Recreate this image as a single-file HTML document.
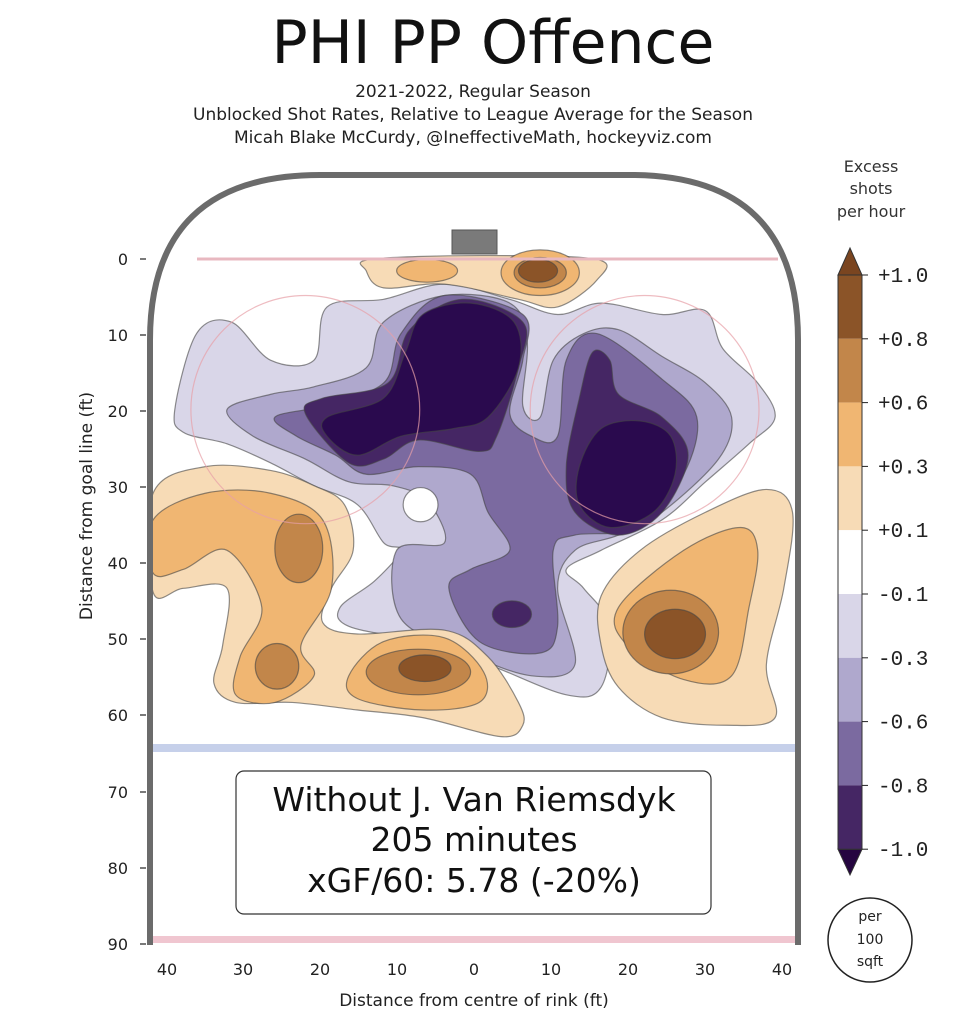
<!DOCTYPE html>
<html><head><meta charset="utf-8"><style>
body{margin:0;background:#fff;}
svg{display:block;font-family:"DejaVu Sans","Liberation Sans",sans-serif;}
</style></head><body>
<svg id="s" width="961" height="1024" viewBox="0 0 961 1024">
<rect width="961" height="1024" fill="#fff"/>
<text x="493" y="63" font-size="60" text-anchor="middle" fill="#111">PHI PP Offence</text>
<text x="473" y="97" font-size="17" text-anchor="middle" fill="#222">2021-2022, Regular Season</text>
<text x="473" y="120" font-size="17" text-anchor="middle" fill="#222">Unblocked Shot Rates, Relative to League Average for the Season</text>
<text x="473" y="143" font-size="17" text-anchor="middle" fill="#222">Micah Blake McCurdy, @IneffectiveMath, hockeyviz.com</text>
<g id="plot" transform="translate(140,170) scale(0.435,0.3803)"></g>
<!-- rink -->
<line x1="197" y1="259" x2="778" y2="259" stroke="#e8b8c0" stroke-width="3"/>
<rect x="452" y="230" width="45" height="24" fill="#7a7a7a" stroke="#555" stroke-width="1"/>
<rect x="150" y="744" width="650" height="8" fill="#c6d0ea"/>
<rect x="150" y="936" width="650" height="7" fill="#f0c6d0"/>
<path d="M150,945 L150,340 Q150,175 320,175 L630,175 Q798,175 798,340 L798,945" fill="none" stroke="#6b6b6b" stroke-width="6"/>
<g font-size="16" fill="#222" text-anchor="end">
<text x="128" y="265">0</text><text x="128" y="341">10</text><text x="128" y="417">20</text><text x="128" y="493">30</text><text x="128" y="569">40</text><text x="128" y="645">50</text><text x="128" y="721">60</text><text x="128" y="798">70</text><text x="128" y="874">80</text><text x="128" y="950">90</text>
</g>
<g stroke="#222" stroke-width="1.2">
<line x1="140" y1="259" x2="146" y2="259"/><line x1="140" y1="335" x2="146" y2="335"/><line x1="140" y1="411" x2="146" y2="411"/><line x1="140" y1="487" x2="146" y2="487"/><line x1="140" y1="563" x2="146" y2="563"/><line x1="140" y1="639" x2="146" y2="639"/><line x1="140" y1="715" x2="146" y2="715"/><line x1="140" y1="792" x2="146" y2="792"/><line x1="140" y1="868" x2="146" y2="868"/><line x1="140" y1="944" x2="146" y2="944"/>
</g>
<g font-size="16" fill="#222" text-anchor="middle">
<text x="167" y="975">40</text><text x="243" y="975">30</text><text x="320" y="975">20</text><text x="397" y="975">10</text><text x="474" y="975">0</text><text x="551" y="975">10</text><text x="628" y="975">20</text><text x="705" y="975">30</text><text x="782" y="975">40</text>
</g>
<text x="474" y="1006" font-size="17" text-anchor="middle" fill="#222">Distance from centre of rink (ft)</text>
<text transform="translate(92,506) rotate(-90)" font-size="17" text-anchor="middle" fill="#222">Distance from goal line (ft)</text>
<rect x="236" y="771" width="475" height="143" rx="8" fill="#fff" stroke="#333" stroke-width="1.2"/>
<g font-size="33" text-anchor="middle" fill="#111">
<text x="474" y="811">Without J. Van Riemsdyk</text>
<text x="474" y="851">205 minutes</text>
<text x="474" y="892">xGF/60: 5.78 (-20%)</text>
</g>
<g font-size="16" fill="#333" text-anchor="middle">
<text x="871" y="172">Excess</text><text x="871" y="194">shots</text><text x="871" y="217">per hour</text>
</g>
<g id="cb"></g>
<circle cx="870" cy="940" r="42" fill="#fff" stroke="#222" stroke-width="1.5"/>
<g font-size="14" text-anchor="middle" fill="#222"><text x="870" y="921">per</text><text x="870" y="944">100</text><text x="870" y="966">sqft</text></g>
</svg>
<script>
const NS="http://www.w3.org/2000/svg";
function smooth(p){let n=p.length,d="M"+p[0][0]+","+p[0][1];
for(let i=0;i<n;i++){const p0=p[(i-1+n)%n],p1=p[i],p2=p[(i+1)%n],p3=p[(i+2)%n];
d+=" C"+(p1[0]+(p2[0]-p0[0])/6)+","+(p1[1]+(p2[1]-p0[1])/6)+" "+(p2[0]-(p3[0]-p1[0])/6)+","+(p2[1]-(p3[1]-p1[1])/6)+" "+p2[0]+","+p2[1];}
return d+"Z";}
const g=document.getElementById("plot");
function st(e,fill){e.setAttribute("fill",fill);e.setAttribute("stroke","#444");e.setAttribute("stroke-width","1.2");e.setAttribute("stroke-opacity","0.6");e.setAttribute("vector-effect","non-scaling-stroke");g.appendChild(e);}
function add(pts,fill){const e=document.createElementNS(NS,"path");e.setAttribute("d",smooth(pts));st(e,fill);}
function ell(cx,cy,rx,ry,fill){const e=document.createElementNS(NS,"ellipse");e.setAttribute("cx",cx);e.setAttribute("cy",cy);e.setAttribute("rx",rx);e.setAttribute("ry",ry);st(e,fill);}
const C={o1:"#f7dbb6",o3:"#f0b672",o6:"#c2864a",o8:"#8b5428",p1:"#d9d6e8",p3:"#afa8cd",p6:"#7b6aa0",p8:"#452664",p10:"#2a0a4e"};
add([[80,630],[130,430],[210,400],[300,500],[400,500],[430,360],[560,340],[700,300],[850,340],[960,380],[1060,350],[1200,380],[1300,370],[1340,470],[1420,560],[1460,650],[1400,720],[1300,820],[1200,920],[1060,1000],[980,1050],[1020,1100],[1080,1200],[1060,1360],[980,1380],[800,1300],[640,1240],[480,1200],[460,1150],[540,1080],[600,1000],[560,980],[500,880],[400,830],[300,770],[200,720],[100,690]],C.p1);
add([[200,630],[300,590],[400,570],[520,520],[560,400],[700,330],[850,350],[890,450],[880,620],[920,650],[950,500],[1020,430],[1100,420],[1200,490],[1300,560],[1360,650],[1330,760],[1200,900],[1100,960],[1000,1000],[960,1100],[1000,1300],[900,1330],[750,1270],[600,1180],[590,1000],[700,980],[660,870],[580,830],[480,820],[380,760],[260,700]],C.p3);
add([[310,650],[420,620],[560,560],[600,430],[700,330],[880,380],[880,500],[850,640],[900,700],[960,700],[980,500],[1050,430],[1200,550],[1280,650],[1250,800],[1150,940],[1000,960],[950,1000],[960,1200],[920,1270],[780,1240],[710,1100],[760,1050],[850,1000],[800,900],[760,800],[640,780],[520,800],[450,750],[360,700]],C.p6);
add([[380,640],[420,600],[570,560],[620,420],[740,340],[880,400],[870,520],[820,700],[780,740],[640,710],[560,760],[480,770]],C.p8);
add([[980,780],[1010,600],[1040,480],[1080,500],[1100,590],[1200,650],[1260,750],[1200,900],[1100,960],[1000,900]],C.p8);
ell(855,1168,45,35,C.p8);
add([[430,650],[560,600],[610,480],[650,380],[760,350],[860,400],[870,520],[800,650],[720,680],[600,700],[500,750],[430,700]],C.p10);
add([[1010,780],[1060,680],[1150,660],[1220,700],[1230,800],[1180,900],[1080,940],[1010,880]],C.p10);
ell(645,880,40,45,"#fff");
add([[30,850],[150,780],[300,790],[400,830],[470,880],[490,1000],[440,1100],[420,1190],[500,1220],[700,1210],[800,1280],[870,1400],[880,1460],[830,1490],[650,1440],[500,1420],[350,1400],[220,1400],[170,1350],[190,1250],[200,1100],[100,1100],[30,1110]],C.o1);
add([[30,920],[150,850],[300,850],[420,920],[440,1100],[370,1250],[400,1330],[310,1400],[220,1380],[230,1280],[280,1150],[200,1000],[100,1050],[30,1060]],C.o3);
add([[480,1330],[560,1240],[700,1230],[790,1320],[780,1400],[650,1420],[500,1390]],C.o3);
ell(365,995,55,90,C.o6);ell(315,1305,50,60,C.o6);ell(640,1320,120,60,C.o6);ell(655,1310,60,35,C.o8);
add([[1060,1120],[1150,1000],[1300,900],[1440,840],[1500,900],[1480,1100],[1440,1300],[1460,1440],[1350,1460],[1200,1440],[1100,1360],[1060,1250]],C.o1);
add([[1100,1150],[1250,1000],[1380,940],[1420,1000],[1400,1150],[1360,1330],[1250,1340],[1120,1250]],C.o3);
ell(1220,1215,110,110,C.o6);ell(1230,1220,70,65,C.o8);
add([[530,235],[780,225],[1050,235],[1050,290],[960,360],[870,340],[700,300],[560,310],[520,265]],C.o1);
ell(660,265,70,30,C.o3);ell(920,270,90,60,C.o3);ell(920,270,60,40,C.o6);ell(915,265,45,30,C.o8);
[[380,630],[1160,630]].forEach(c=>{const e=document.createElementNS(NS,"ellipse");e.setAttribute("cx",c[0]);e.setAttribute("cy",c[1]);e.setAttribute("rx",263);e.setAttribute("ry",300);e.setAttribute("fill","none");e.setAttribute("stroke","#e8a0a8");e.setAttribute("stroke-width","1.2");e.setAttribute("vector-effect","non-scaling-stroke");e.setAttribute("opacity","0.7");g.appendChild(e);});
const cb=document.getElementById("cb");
const cols=[C.o8,C.o6,C.o3,C.o1,"#fff",C.p1,C.p3,C.p6,C.p8];
const labs=["+1.0","+0.8","+0.6","+0.3","+0.1","-0.1","-0.3","-0.6","-0.8","-1.0"];
const y0=275,h=63.8;let s="";
s+=`<polygon points="838,${y0} 850,248 862,${y0}" fill="#7a4520" stroke="#333"/>`;
s+=`<polygon points="838,${y0+9*h} 850,875 862,${y0+9*h}" fill="#250540" stroke="#333"/>`;
cols.forEach((c,i)=>{s+=`<rect x="838" y="${y0+i*h}" width="24" height="${h}" fill="${c}"/>`;});
s+=`<rect x="838" y="${y0}" width="24" height="${9*h}" fill="none" stroke="#333" stroke-width="1"/>`;
labs.forEach((l,i)=>{const y=y0+i*h;s+=`<line x1="862" y1="${y}" x2="868" y2="${y}" stroke="#222"/><text x="878" y="${y+7}" font-family="Liberation Mono,monospace" font-size="21" fill="#222">${l}</text>`;});
cb.innerHTML=s;
</script>
</body></html>
